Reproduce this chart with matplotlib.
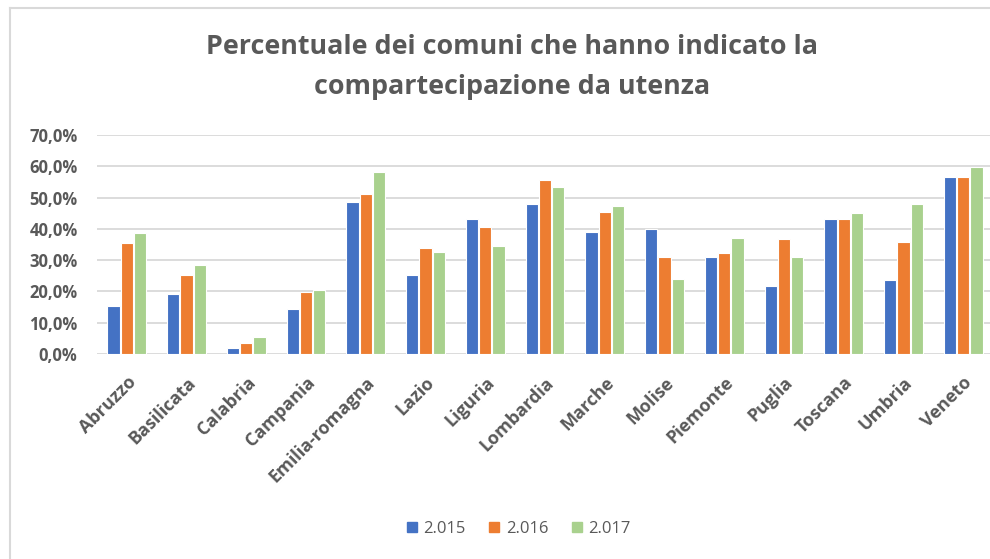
import numpy as np
from matplotlib import pyplot as plt
from matplotlib.lines import Line2D

plt.rcParams['font.family'] = ['Open Sans', 'DejaVu Sans']

# data
# ------------------------------------------------------------------------------
regioni = ['Abruzzo', 'Basilicata', 'Calabria', 'Campania', 'Emilia-romagna',
           'Lazio', 'Liguria', 'Lombardia', 'Marche', 'Molise', 'Piemonte',
           'Puglia', 'Toscana', 'Umbria', 'Veneto']
anni = ['2.015', '2.016', '2.017']
v2015 = [15.2, 19.3, 1.8, 14.3, 48.7, 25.2, 43.3, 47.9, 39.0, 39.8, 31.0, 21.7, 43.1, 23.8, 56.5]
v2016 = [35.4, 25.2, 3.5, 19.9, 51.2, 33.8, 40.5, 55.7, 45.5, 31.0, 32.3, 36.7, 43.1, 35.9, 56.5]
v2017 = [38.6, 28.4, 5.3, 20.5, 58.3, 32.7, 34.5, 53.3, 47.2, 24.1, 37.0, 31.0, 45.1, 48.0, 59.8]
colori = ['#4472C4', '#ED7D31', '#A9D18E']
grigio = '#595959'

# figure
# ------------------------------------------------------------------------------
fig = plt.figure(figsize=(9.9, 5.59), dpi=100)
ax = fig.add_axes([97/990, 1-354/559, 896/990, 219/559])

x = np.arange(len(regioni))
passo = 0.222
for i, (serie, col) in enumerate(zip([v2015, v2016, v2017], colori)):
    ax.bar(x + (i-1)*passo, serie, width=0.205, color=col, edgecolor='white',
           linewidth=0.8, zorder=3, label=anni[i])

ax.set_xlim(-0.5, len(regioni)-0.5)
ax.set_ylim(0, 70)
ax.set_yticks(np.arange(0, 71, 10))
ax.set_yticklabels([('%.1f%%' % v).replace('.', ',') for v in np.arange(0, 71, 10)])
ax.grid(axis='y', color='#d9d9d9', linewidth=1.3, zorder=0)
for s in ax.spines.values():
    s.set_visible(False)
ax.tick_params(length=0)
ax.tick_params(axis='y', pad=14, labelsize=12, labelcolor=grigio)
for t in ax.get_yticklabels():
    t.set_fontweight('bold')
ax.set_xticks(x)
ax.set_xticklabels(regioni, rotation=45, ha='right', rotation_mode='anchor',
                   fontsize=13, fontweight='bold', color=grigio)
ax.tick_params(axis='x', pad=14)

# title
fig.text(512/990, 1-47/559, 'Percentuale dei comuni che hanno indicato la',
         ha='center', va='center', fontsize=19.4, fontweight='bold', color=grigio)
fig.text(512/990, 1-87/559, 'compartecipazione da utenza',
         ha='center', va='center', fontsize=19.4, fontweight='bold', color=grigio)

# legend
handles = [Line2D([], [], marker='s', linestyle='', markersize=7.5, color=c) for c in colori]
fig.legend(handles, anni, loc='center', bbox_to_anchor=(517/990, 1-529/559), ncol=3,
           frameon=False, fontsize=12, labelcolor=grigio, handletextpad=0.2,
           columnspacing=1.2, handlelength=1.0)

# chart border
fig.add_artist(Line2D([10/990, 1], [1-8/559, 1-8/559], color='#d9d9d9', linewidth=1.5))
fig.add_artist(Line2D([10/990, 10/990], [0, 1-8/559], color='#d9d9d9', linewidth=1.5))

fig.savefig('out.png', dpi=100)
